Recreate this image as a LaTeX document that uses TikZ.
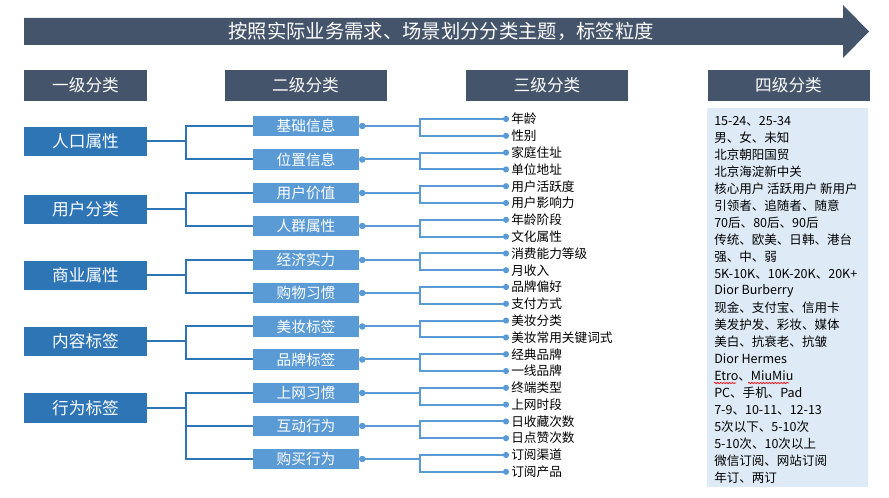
\documentclass[tikz,border=0pt]{standalone}
\usepackage{fontspec}
\setmainfont{Noto Sans CJK SC}
\usepackage{xcolor}
\usetikzlibrary{arrows.meta,decorations.pathmorphing}

\definecolor{slate}{RGB}{68,84,106}
\definecolor{catblue}{RGB}{46,117,182}
\definecolor{subblue}{RGB}{91,155,213}
\definecolor{paleblue}{RGB}{222,235,247}

\begin{document}
\begin{tikzpicture}[x=0.75pt,y=0.75pt,yscale=-1,xscale=1,
  headbox/.style={fill=slate, text=white, minimum width=121.5pt, minimum height=23.25pt, inner sep=0pt, font=\fontsize{12.5}{14}\selectfont},
  catbox/.style={fill=catblue, text=white, minimum width=92.25pt, minimum height=22pt, inner sep=0pt, font=\fontsize{12.5}{14}\selectfont},
  subbox/.style={fill=subblue, text=white, minimum width=79.5pt, minimum height=15.5pt, inner sep=0pt, font=\fontsize{11}{13}\selectfont},
  leaf/.style={anchor=west, inner sep=1.5pt, font=\fontsize{9.5}{11}\selectfont},
  detail/.style={anchor=west, inner sep=0pt, font=\fontsize{9.4}{11}\selectfont},
  catlink/.style={draw=catblue, line width=1.5pt},
  sublink/.style={draw=subblue, line width=1.5pt, {Circle[length=4.5pt]}-{Circle[length=4.5pt]}}
]
\useasboundingbox (0,0) rectangle (889,498);

%Banner arrow
\fill [slate] (24,18) -- (843,18) -- (843,5) -- (869,31.5) -- (843,58) -- (843,45) -- (24,45) -- cycle ;
% Text Node
\node [text=white, font=\fontsize{14.5}{16}\selectfont] (theme) at (441,31.5) {按照实际业务需求、场景划分分类主题，标签粒度};

%Column heads
\node [headbox, minimum width=92.25pt] (head1) at (85.5,85.5) {一级分类};
\node [headbox] (head2) at (305.5,85.5) {二级分类};
\node [headbox] (head3) at (547,85.5) {三级分类};
\node [headbox] (head4) at (788.5,85.5) {四级分类};

%Shape: Rectangle (fourth level)
\fill [paleblue] (707,108) rectangle (868,487) ;

%First level
\node [catbox] (renkou) at (85.5,141.5) {人口属性};
\node [catbox] (yonghu) at (85.5,209.5) {用户分类};
\node [catbox] (shangye) at (85.5,275.5) {商业属性};
\node [catbox] (neirong) at (85.5,341.5) {内容标签};
\node [catbox] (xingwei) at (85.5,408) {行为标签};

%Second level
\node [subbox] (jichu) at (306,126) {基础信息};
\node [subbox] (weizhi) at (306,159.5) {位置信息};
\node [subbox] (jiazhi) at (306,193) {用户价值};
\node [subbox] (renqun) at (306,226) {人群属性};
\node [subbox] (jingji) at (306,260) {经济实力};
\node [subbox] (gouwu) at (306,293) {购物习惯};
\node [subbox] (meizhuang) at (306,326.5) {美妆标签};
\node [subbox] (pinpai) at (306,359.5) {品牌标签};
\node [subbox] (shangwang) at (306,393) {上网习惯};
\node [subbox] (hudong) at (306,426) {互动行为};
\node [subbox] (goumai) at (306,459) {购买行为};

%Third level
\node [leaf] (t1) at (509,119) {年龄};
\node [leaf] (t2) at (509,135.8) {性别};
\node [leaf] (t3) at (509,152.6) {家庭住址};
\node [leaf] (t4) at (509,169.4) {单位地址};
\node [leaf] (t5) at (509,186.2) {用户活跃度};
\node [leaf] (t6) at (509,203) {用户影响力};
\node [leaf] (t7) at (509,219.8) {年龄阶段};
\node [leaf] (t8) at (509,236.6) {文化属性};
\node [leaf] (t9) at (509,253.4) {消费能力等级};
\node [leaf] (t10) at (509,270.2) {月收入};
\node [leaf] (t11) at (509,287) {品牌偏好};
\node [leaf] (t12) at (509,303.8) {支付方式};
\node [leaf] (t13) at (509,320.6) {美妆分类};
\node [leaf] (t14) at (509,337.4) {美妆常用关键词式};
\node [leaf] (t15) at (509,354.2) {经典品牌};
\node [leaf] (t16) at (509,371) {一线品牌};
\node [leaf] (t17) at (509,387.8) {终端类型};
\node [leaf] (t18) at (509,404.6) {上网时段};
\node [leaf] (t19) at (509,421.4) {日收藏次数};
\node [leaf] (t20) at (509,438.2) {日点赞次数};
\node [leaf] (t21) at (509,455) {订阅渠道};
\node [leaf] (t22) at (509,471.8) {订阅产品};

%Fourth level
\node [detail] (d1) at (714,121) {15-24、25-34};
\node [detail] (d2) at (714,138) {男、女、未知};
\node [detail] (d3) at (714,155) {北京朝阳国贸};
\node [detail] (d4) at (714,172) {北京海淀新中关};
\node [detail] (d5) at (714,189) {核心用户 活跃用户 新用户};
\node [detail] (d6) at (714,206) {引领者、追随者、随意};
\node [detail] (d7) at (714,223) {70后、80后、90后};
\node [detail] (d8) at (714,240) {传统、欧美、日韩、港台};
\node [detail] (d9) at (714,257) {强、中、弱};
\node [detail] (d10) at (714,274) {5K-10K、10K-20K、20K+};
\node [detail] (d11) at (714,291) {Dior Burberry};
\node [detail] (d12) at (714,308) {现金、支付宝、信用卡};
\node [detail] (d13) at (714,325) {美发护发、彩妆、媒体};
\node [detail] (d14) at (714,342) {美白、抗衰老、抗皱};
\node [detail] (d15) at (714,359) {Dior Hermes};
\node [detail] (d16) at (714,376) {Etro、MiuMiu};
\node [detail] (d17) at (714,393) {PC、手机、Pad};
\node [detail] (d18) at (714,410) {7-9、10-11、12-13};
\node [detail] (d19) at (714,427) {5次以下、5-10次};
\node [detail] (d20) at (714,444) {5-10次、10次以上};
\node [detail] (d21) at (714,461) {微信订阅、网站订阅};
\node [detail] (d22) at (714,478) {年订、两订};
%spell-check marks
\draw [red, line width=0.5pt, decorate, decoration={snake, amplitude=0.5pt, segment length=2.2pt}] (714,383) -- (736,383) ;
\draw [red, line width=0.5pt, decorate, decoration={snake, amplitude=0.5pt, segment length=2.2pt}] (748,383) -- (789,383) ;

%Brackets first to second level
\draw [catlink] (renkou.east) -- ++(39,0) |- (jichu.west) ;
\draw [catlink] (renkou.east) -- ++(39,0) |- (weizhi.west) ;
\draw [catlink] (yonghu.east) -- ++(39,0) |- (jiazhi.west) ;
\draw [catlink] (yonghu.east) -- ++(39,0) |- (renqun.west) ;
\draw [catlink] (shangye.east) -- ++(39,0) |- (jingji.west) ;
\draw [catlink] (shangye.east) -- ++(39,0) |- (gouwu.west) ;
\draw [catlink] (neirong.east) -- ++(39,0) |- (meizhuang.west) ;
\draw [catlink] (neirong.east) -- ++(39,0) |- (pinpai.west) ;
\draw [catlink] (xingwei.east) -- ++(39,0) |- (shangwang.west) ;
\draw [catlink] (xingwei.east) -- ++(39,0) |- (hudong.west) ;
\draw [catlink] (xingwei.east) -- ++(39,0) |- (goumai.west) ;

%Brackets second to third level
\draw [sublink] (jichu.east) -- ++(61,0) |- (t1.west) ;
\draw [sublink] (jichu.east) -- ++(61,0) |- (t2.west) ;
\draw [sublink] (weizhi.east) -- ++(61,0) |- (t3.west) ;
\draw [sublink] (weizhi.east) -- ++(61,0) |- (t4.west) ;
\draw [sublink] (jiazhi.east) -- ++(61,0) |- (t5.west) ;
\draw [sublink] (jiazhi.east) -- ++(61,0) |- (t6.west) ;
\draw [sublink] (renqun.east) -- ++(61,0) |- (t7.west) ;
\draw [sublink] (renqun.east) -- ++(61,0) |- (t8.west) ;
\draw [sublink] (jingji.east) -- ++(61,0) |- (t9.west) ;
\draw [sublink] (jingji.east) -- ++(61,0) |- (t10.west) ;
\draw [sublink] (gouwu.east) -- ++(61,0) |- (t11.west) ;
\draw [sublink] (gouwu.east) -- ++(61,0) |- (t12.west) ;
\draw [sublink] (meizhuang.east) -- ++(61,0) |- (t13.west) ;
\draw [sublink] (meizhuang.east) -- ++(61,0) |- (t14.west) ;
\draw [sublink] (pinpai.east) -- ++(61,0) |- (t15.west) ;
\draw [sublink] (pinpai.east) -- ++(61,0) |- (t16.west) ;
\draw [sublink] (shangwang.east) -- ++(61,0) |- (t17.west) ;
\draw [sublink] (shangwang.east) -- ++(61,0) |- (t18.west) ;
\draw [sublink] (hudong.east) -- ++(61,0) |- (t19.west) ;
\draw [sublink] (hudong.east) -- ++(61,0) |- (t20.west) ;
\draw [sublink] (goumai.east) -- ++(61,0) |- (t21.west) ;
\draw [sublink] (goumai.east) -- ++(61,0) |- (t22.west) ;

\end{tikzpicture}
\end{document}
